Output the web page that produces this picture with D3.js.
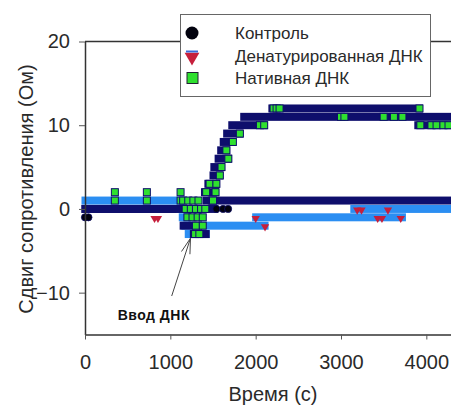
<!DOCTYPE html>
<html>
<head>
<meta charset="utf-8">
<script src="https://cdn.jsdelivr.net/npm/d3@7"></script>
<style>
  html, body { margin: 0; padding: 0; background: #fff; }
  svg { display: block; font-family: "Liberation Sans", Arial, sans-serif; }
</style>
</head>
<body>
<div id="chart"></div>
<script>
// Resistance shift vs time, three sensor runs

const width = 451;
const height = 409;

const xTicks = [0, 1000, 2000, 3000, 4000];
const yTicks = [-10, 0, 10, 20];
const seriesNames = ['Контроль', 'Денатурированная ДНК', 'Нативная ДНК'];

// dense readings drawn as step runs: [start (s), end (s), shift (Ом)]
const controlRuns = [
  [0, 1520, 0],
  [1480, 4500, 1]
];
// single markers that stand out of the runs: [time, shift]
const controlPoints = [
  [0, -1], [40, -1], [1540, 0], [1618, 0], [1677, 0]
];

const denatRuns = [
  [0, 1120, 1],
  [1110, 1160, 0],
  [1140, 1190, -1],
  [1170, 1230, -2],
  [1210, 1420, -3],
  [1400, 2110, -2],
  [2000, 3720, -1],
  [3150, 4500, 0]
];
const denatPoints = [
  [815, -1], [855, -1], [2000, -1], [2110, -2],
  [3190, 0], [3240, 0], [3430, -1], [3480, -1], [3550, 0], [3700, -1]
];

const nativeRuns = [
  [0, 1150, 0],
  [1150, 1330, -2],
  [1270, 1420, -3],
  [1420, 1500, 1],
  [1400, 1530, 2],
  [1440, 1540, 3],
  [1500, 1580, 4],
  [1510, 1600, 5],
  [1560, 1680, 6],
  [1590, 1660, 7],
  [1620, 1730, 8],
  [1660, 1815, 9],
  [1720, 2100, 10],
  [1860, 4500, 11],
  [2190, 3920, 12],
  [3900, 4500, 10]
];
const nativePoints = [
  [350, 1], [350, 2], [725, 1], [725, 2], [1120, 1], [1120, 2],
  [1150, 1], [1210, 1], [1270, 1], [1330, 1],
  [1180, 0], [1240, 0], [1300, 0], [1360, 0], [1410, 0],
  [1200, -1], [1260, -1], [1320, -1], [1380, -1],
  [1300, -2], [1380, -2], [1290, -3], [1340, -3],
  [1420, 2], [1500, 1], [1530, 2], [1460, 3], [1540, 3],
  [1580, 4], [1600, 5], [1680, 6], [1657, 7], [1733, 8], [1815, 9],
  [2050, 10], [2100, 10],
  [2210, 12], [2245, 12], [2280, 12], [3920, 12],
  [3000, 11], [3040, 11], [3500, 11], [3620, 11], [3720, 11],
  [3930, 10], [4060, 10], [4120, 10], [4200, 10], [4260, 10]
];

// annotation anchors in data units
const arrowFrom = [1016, -10.4];
const arrowTo = [1236, -3.5];
const noteAt = [383, -13.3];
const noteText = 'Ввод ДНК';

const navy = '#0e0e6c';
const lightBlue = '#2b8ef2';
const green = '#2fe02f';
const red = '#c61f3c';

const svg = d3.select('#chart')
  .append('svg')
  .attr('width', width)
  .attr('height', height);

const x = d3.scaleLinear().domain([0, 4500]).range([85, 469]);
const y = d3.scaleLinear().domain([-15, 20]).range([334.5, 41.5]);

const band = 8;
const mk = 7;

// top frame
svg.append('line')
  .attr('x1', x(0)).attr('x2', x(4500))
  .attr('y1', y(20)).attr('y2', y(20))
  .attr('stroke', '#333').attr('stroke-width', 1.5);

const plot = svg.append('g');

function drawRuns(runs, color) {
  plot.append('g').selectAll('rect')
    .data(runs)
    .enter().append('rect')
    .attr('x', d => x(d[0]) - mk / 2)
    .attr('width', d => x(d[1]) - x(d[0]) + mk)
    .attr('y', d => y(d[2]) - band / 2)
    .attr('height', band)
    .attr('fill', color);
}

// control
drawRuns(controlRuns, navy);
plot.append('g').selectAll('circle')
  .data(controlPoints)
  .enter().append('circle')
  .attr('cx', d => x(d[0]))
  .attr('cy', d => y(d[1]))
  .attr('r', 3.6)
  .attr('fill', '#02020e')
  .attr('stroke', navy)
  .attr('stroke-width', 0.8);

// denatured
drawRuns(denatRuns, lightBlue);
const tri = d3.symbol().type(d3.symbolTriangle).size(30);
plot.append('g').selectAll('path')
  .data(denatPoints)
  .enter().append('path')
  .attr('d', tri)
  .attr('transform', d => `translate(${x(d[0])},${y(d[1]) + 1}) rotate(180)`)
  .attr('fill', red);

// native
drawRuns(nativeRuns, navy);
plot.append('g').selectAll('rect')
  .data(nativePoints)
  .enter().append('rect')
  .attr('x', d => x(d[0]) - mk / 2)
  .attr('y', d => y(d[1]) - mk / 2)
  .attr('width', mk)
  .attr('height', mk)
  .attr('fill', green)
  .attr('stroke', navy)
  .attr('stroke-width', 1);

// axes
const yAxis = svg.append('g')
  .attr('transform', `translate(${x(0)},0)`)
  .call(d3.axisLeft(y).tickValues(yTicks).tickSize(6).tickSizeOuter(0).tickPadding(9));
const xAxis = svg.append('g')
  .attr('transform', `translate(0,${y(-15)})`)
  .call(d3.axisBottom(x).tickValues(xTicks).tickFormat(d3.format('d'))
    .tickSize(5).tickSizeOuter(0).tickPadding(15));

[xAxis, yAxis].forEach(a => {
  a.select('.domain').attr('stroke', '#333').attr('stroke-width', 1.5);
  a.selectAll('.tick line').attr('stroke', '#555').attr('stroke-width', 1);
  a.selectAll('.tick text')
    .attr('fill', '#2a2a2a')
    .style('font-size', '20px')
    .style('font-family', '"Liberation Sans", Arial, sans-serif');
});

// axis titles
svg.append('text')
  .attr('x', 273).attr('y', 401)
  .attr('text-anchor', 'middle')
  .attr('fill', '#2a2a2a')
  .style('font-size', '20px')
  .text('Время (с)');

svg.append('text')
  .attr('transform', 'translate(33,189) rotate(-90)')
  .attr('text-anchor', 'middle')
  .attr('fill', '#2a2a2a')
  .style('font-size', '20px')
  .text('Сдвиг сопротивления (Ом)');

// arrow annotation
const ax0 = x(arrowFrom[0]), ay0 = y(arrowFrom[1]);
const ax1 = x(arrowTo[0]), ay1 = y(arrowTo[1]);
svg.append('line')
  .attr('x1', ax0).attr('y1', ay0).attr('x2', ax1).attr('y2', ay1)
  .attr('stroke', '#444').attr('stroke-width', 1);
const ang = Math.atan2(ay0 - ay1, ax0 - ax1);
[-0.28, 0.28].forEach(da => {
  svg.append('line')
    .attr('x1', ax1).attr('y1', ay1)
    .attr('x2', ax1 + 16 * Math.cos(ang + da))
    .attr('y2', ay1 + 16 * Math.sin(ang + da))
    .attr('stroke', '#444').attr('stroke-width', 1);
});
svg.append('text')
  .attr('x', x(noteAt[0])).attr('y', y(noteAt[1]))
  .attr('fill', '#111')
  .style('font-size', '14px')
  .style('font-weight', 'bold')
  .style('letter-spacing', '0.5px')
  .text(noteText);

// legend
const lg = svg.append('g');
lg.append('rect')
  .attr('x', 180.5).attr('y', 14.5)
  .attr('width', 250).attr('height', 82)
  .attr('fill', '#fff')
  .attr('stroke', '#666').attr('stroke-width', 1);

const rowY = [33, 56, 78];
lg.append('circle')
  .attr('cx', 192).attr('cy', rowY[0]).attr('r', 6.5)
  .attr('fill', '#02020e');
lg.append('path')
  .attr('d', d3.symbol().type(d3.symbolTriangle).size(95))
  .attr('transform', `translate(192,${rowY[1] + 1}) rotate(180)`)
  .attr('fill', red);
lg.append('line')
  .attr('x1', 186).attr('x2', 198)
  .attr('y1', rowY[1] - 4.5).attr('y2', rowY[1] - 4.5)
  .attr('stroke', '#3a6ad8').attr('stroke-width', 2);
lg.append('rect')
  .attr('x', 187).attr('y', rowY[2] - 5.5)
  .attr('width', 11).attr('height', 11)
  .attr('fill', green)
  .attr('stroke', '#223').attr('stroke-width', 1);

lg.selectAll('text.lab')
  .data(seriesNames)
  .enter().append('text')
  .attr('class', 'lab')
  .attr('x', 235)
  .attr('y', (d, i) => rowY[i] + 5.5)
  .attr('fill', '#2a2a2a')
  .style('font-size', '17px')
  .text(d => d);
</script>
</body>
</html>
